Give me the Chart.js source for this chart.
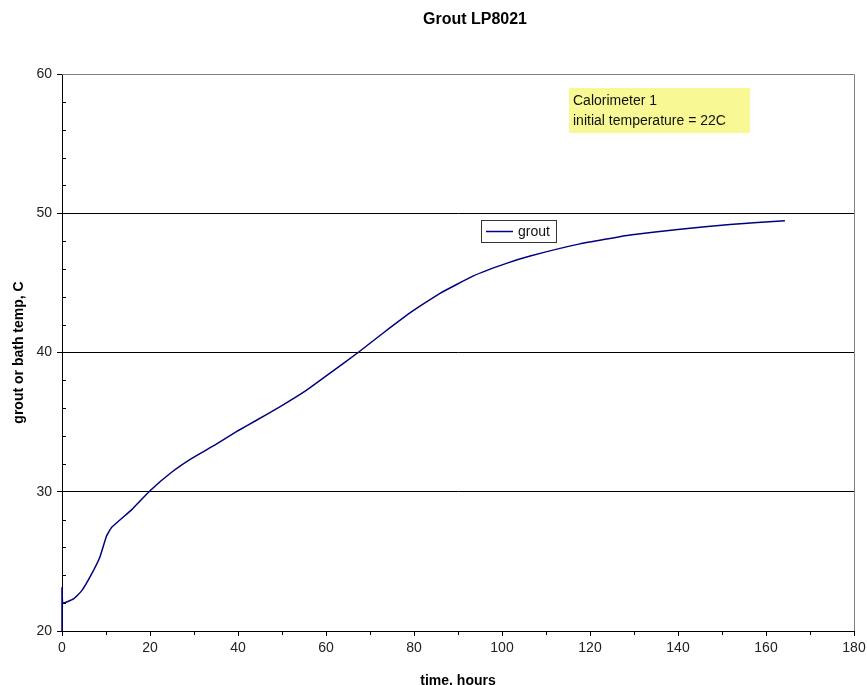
<!DOCTYPE html>
<html>
<head>
<meta charset="utf-8">
<script src="https://cdn.jsdelivr.net/npm/chart.js@4.4.1/dist/chart.umd.min.js"></script>
<style>
  html, body { margin: 0; padding: 0; background: #fff; }
  #wrap { width: 867px; height: 685px; }
</style>
</head>
<body>
<div id="wrap"><canvas id="chart" width="867" height="685"></canvas></div>
<script>
// hours since mixing
const times = [0, 0, 0.2, 2.6, 4.5, 6.4, 8.6, 10.1, 11.3, 15.8, 20, 24.9, 29.5, 34.8, 40.1, 44,
    49.5, 55.6, 61.7, 67.3, 73, 79.8, 85.9, 93.5, 101, 106.4, 117.7, 129.1, 140.5, 151.8, 164.3];
// grout temperature, C
const temps = [20, 23.1, 22.0, 22.3, 22.9, 23.9, 25.3, 26.8, 27.45, 28.7, 30.07, 31.4, 32.4, 33.36, 34.4, 35.1,
    36.1, 37.3, 38.7, 40.0, 41.4, 43.0, 44.25, 45.5, 46.4, 46.93, 47.8, 48.44, 48.85, 49.2, 49.47];

const xTicks = [0, 20, 40, 60, 80, 100, 120, 140, 160, 180];
const yTicks = [20, 30, 40, 50, 60];
const noteLines = ['Calorimeter 1', 'initial temperature = 22C'];

const FONT = '"Liberation Sans", Arial, sans-serif';

// titre, bordure, ticks mineurs, légende et note
const decor = {
    id: 'decor',
    beforeDatasetsDraw(chart) {
        const { ctx, chartArea: a } = chart;
        ctx.save();
        ctx.strokeStyle = '#808080';
        ctx.lineWidth = 1;
        ctx.beginPath();
        ctx.moveTo(a.left, a.top + 0.5);
        ctx.lineTo(a.right + 0.5, a.top + 0.5);
        ctx.lineTo(a.right + 0.5, a.bottom);
        ctx.stroke();

        // minor ticks
        const xs = chart.scales.x, ys = chart.scales.y;
        ctx.strokeStyle = '#000';
        ctx.beginPath();
        for (let v = 22; v < 60; v += 2) {
            if (v % 10 === 0) continue;
            const py = Math.round(ys.getPixelForValue(v)) + 0.5;
            ctx.moveTo(a.left, py);
            ctx.lineTo(a.left + 4, py);
        }
        for (let v = 10; v < 180; v += 20) {
            const px = Math.round(xs.getPixelForValue(v)) + 0.5;
            ctx.moveTo(px, a.bottom);
            ctx.lineTo(px, a.bottom + 4);
        }
        ctx.stroke();
        ctx.restore();
    },
    afterDraw(chart) {
        const { ctx } = chart;
        ctx.save();
        // title
        ctx.fillStyle = '#000';
        ctx.font = 'bold 16px ' + FONT;
        ctx.textAlign = 'center';
        ctx.textBaseline = 'middle';
        ctx.fillText('Grout LP8021', 475, 20);

        // note box
        ctx.fillStyle = '#f8f894';
        ctx.fillRect(569, 88, 181, 45);
        ctx.fillStyle = '#111';
        ctx.font = '14px ' + FONT;
        ctx.textAlign = 'left';
        noteLines.forEach((t, i) => ctx.fillText(t, 573, 101 + i * 20));

        // legend
        ctx.fillStyle = '#fff';
        ctx.fillRect(481, 220, 75, 22);
        ctx.strokeStyle = '#333';
        ctx.lineWidth = 1;
        ctx.strokeRect(481.5, 220.5, 75, 22);
        ctx.strokeStyle = '#000080';
        ctx.lineWidth = 1.5;
        ctx.beginPath();
        ctx.moveTo(486, 231.5);
        ctx.lineTo(513, 231.5);
        ctx.stroke();
        ctx.fillStyle = '#111';
        ctx.fillText(chart.data.datasets[0].label, 518, 232);
        ctx.restore();
    }
};

new Chart(document.getElementById('chart'), {
    type: 'line',
    data: {
        datasets: [{
            label: 'grout',
            data: times.map((t, i) => ({ x: t, y: temps[i] })),
            borderColor: '#000080',
            borderWidth: 1.5,
            pointRadius: 0,
            tension: 0.1,
            fill: false,
            clip: false,
        }],
    },
    options: {
        responsive: false,
        animation: false,
        layout: { padding: { left: 0, right: 13, top: 74, bottom: 0 } },
        plugins: {
            legend: { display: false },
            tooltip: { enabled: false },
        },
        scales: {
            x: {
                type: 'linear',
                min: 0,
                max: 180,
                afterFit: (s) => { s.height = 54; s.paddingRight = 0; },
                afterBuildTicks: (s) => { s.ticks = xTicks.map((v) => ({ value: v })); },
                ticks: { color: '#222', font: { family: FONT, size: 14 }, padding: 4, maxRotation: 0 },
                grid: { drawOnChartArea: false, tickLength: 5, color: '#000' },
                border: { color: '#000', width: 1 },
                title: {
                    display: true, text: 'time, hours', color: '#000',
                    font: { family: FONT, size: 14, weight: 'bold' }, padding: { top: 0, bottom: -5 },
                },
            },
            y: {
                min: 20,
                max: 60,
                afterFit: (s) => { s.width = 62; },
                afterBuildTicks: (s) => { s.ticks = yTicks.map((v) => ({ value: v })); },
                ticks: { color: '#222', font: { family: FONT, size: 14 }, padding: 5 },
                grid: {
                    tickLength: 5,
                    color: (c) => (c.tick && c.tick.value === 60 ? '#808080' : '#000'),
                    tickColor: '#000',
                },
                border: { color: '#000', width: 1 },
                title: {
                    display: true, text: 'grout or bath temp, C', color: '#000',
                    font: { family: FONT, size: 14, weight: 'bold' }, padding: { top: 11, bottom: 0 },
                },
            },
        },
    },
    plugins: [decor],
});
</script>
</body>
</html>
